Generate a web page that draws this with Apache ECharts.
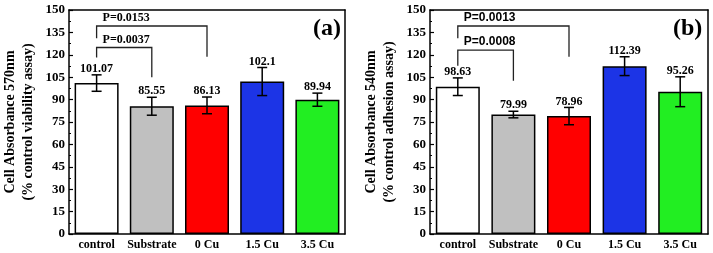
<!DOCTYPE html>
<html>
<head>
<meta charset="utf-8">
<script src="https://cdn.jsdelivr.net/npm/echarts@6/dist/echarts.min.js"></script>
<style>
  html, body { margin: 0; padding: 0; background: #fff; }
  #main { width: 713px; height: 253px; }
</style>
</head>
<body>
<div id="main"></div>
<script>
// groups on the x axis
const categories = ['control', 'Substrate', '0 Cu', '1.5 Cu', '3.5 Cu'];
const barColors = ['#ffffff', '#c0c0c0', '#ff0000', '#1c34e6', '#22ee22'];

// (a) viability, 570nm
const viabilityMean = [101.07, 85.55, 86.13, 102.1, 89.94];
const viabilityErr = [5.5, 6.0, 5.6, 9.4, 4.4];
// (b) adhesion, 540nm
const adhesionMean = [98.63, 79.99, 78.96, 112.39, 95.26];
const adhesionErr = [5.9, 2.2, 5.8, 6.3, 10.0];

const yTicks = { min: 0, max: 150, interval: 15 };

// significance brackets: [from, to, top, left end, right end, label]
const bracketsA = [
  [0, 2, 139.3, 131, 118.7, 'P=0.0153'],
  [0, 1, 124.9, 118.2, 104.9, 'P=0.0037']
];
const bracketsB = [
  [0, 2, 139.3, 131, 118.7, 'P=0.0013'],
  [0, 1, 123.1, 112.7, 102.7, 'P=0.0008']
];

const serif = '"Liberation Serif", "Times New Roman", serif';
const sans = '"Liberation Sans", Arial, sans-serif';

function xAxisFor(gridIndex) {
  return {
    type: 'category', gridIndex, data: categories,
    axisLine: { show: true, lineStyle: { color: '#000', width: 1.5 } },
    axisTick: { show: true, inside: true, alignWithLabel: true, interval: 0, length: 4, lineStyle: { color: '#000', width: 1.2 } },
    axisLabel: { color: '#000', fontFamily: serif, fontWeight: 'bold', fontSize: 12, margin: 5, interval: 0 },
    splitLine: { show: false }
  };
}
function topAxisFor(gridIndex) {
  return {
    type: 'category', gridIndex, position: 'top', data: categories,
    axisLine: { show: true, onZero: false, lineStyle: { color: '#000', width: 1.5 } },
    axisTick: { show: false }, axisLabel: { show: false }
  };
}
function yAxisFor(gridIndex, name) {
  return {
    type: 'value', gridIndex, min: yTicks.min, max: yTicks.max, interval: yTicks.interval,
    name: name, nameLocation: 'middle', nameGap: 32,
    nameTextStyle: { color: '#000', fontFamily: serif, fontWeight: 'bold', fontSize: 14, lineHeight: 18 },
    axisLine: { show: true, lineStyle: { color: '#000', width: 1.5 } },
    axisTick: { show: true, inside: true, length: 4, lineStyle: { color: '#000', width: 1.2 } },
    minorTick: { show: true, splitNumber: 2, length: 2, lineStyle: { color: '#000', width: 1 } },
    axisLabel: { color: '#000', fontFamily: serif, fontWeight: 'bold', fontSize: 13, margin: 4 },
    splitLine: { show: false }
  };
}
function rightAxisFor(gridIndex) {
  return {
    type: 'value', gridIndex, position: 'right', min: yTicks.min, max: yTicks.max, interval: yTicks.interval,
    axisLine: { show: true, lineStyle: { color: '#000', width: 1.5 } },
    axisTick: { show: false }, axisLabel: { show: false }, splitLine: { show: false }
  };
}

function barSeries(idx, means) {
  return {
    type: 'bar', xAxisIndex: idx * 2, yAxisIndex: idx * 2, barWidth: 44,
    data: means.map((v, i) => ({
      value: v,
      itemStyle: { color: barColors[i], borderColor: '#000', borderWidth: 1.5 }
    })),
    silent: true, z: 2
  };
}

function errorSeries(idx, means, errs) {
  return {
    type: 'custom', xAxisIndex: idx * 2, yAxisIndex: idx * 2, z: 5, silent: true,
    data: means.map((v, i) => [i, v, errs[i]]),
    renderItem(params, api) {
      const i = api.value(0), v = api.value(1), e = api.value(2);
      const top = api.coord([i, v + e]);
      const bot = api.coord([i, v - e]);
      const cap = 5;
      const style = { stroke: '#000', lineWidth: 1.5 };
      return {
        type: 'group',
        children: [
          { type: 'line', shape: { x1: top[0], y1: top[1], x2: bot[0], y2: bot[1] }, style },
          { type: 'line', shape: { x1: top[0] - cap, y1: top[1], x2: top[0] + cap, y2: top[1] }, style },
          { type: 'line', shape: { x1: bot[0] - cap, y1: bot[1], x2: bot[0] + cap, y2: bot[1] }, style },
          {
            type: 'text', x: top[0], y: top[1] - 6,
            style: {
              text: String(means[i]), fill: '#000', align: 'center', verticalAlign: 'middle',
              font: 'bold 12px ' + serif
            }
          }
        ]
      };
    }
  };
}

function bracketSeries(idx, brackets, fontFamily) {
  return {
    type: 'custom', xAxisIndex: idx * 2, yAxisIndex: idx * 2, z: 6, silent: true,
    data: brackets.map(b => b.slice(0, 5)),
    renderItem(params, api) {
      const b = brackets[params.dataIndex];
      const pl = api.coord([b[0], b[3]]);
      const pt = api.coord([b[0], b[2]]);
      const qt = api.coord([b[1], b[2]]);
      const qr = api.coord([b[1], b[4]]);
      return {
        type: 'group',
        children: [
          {
            type: 'polyline',
            shape: { points: [pl, pt, qt, qr] },
            style: { stroke: '#222', lineWidth: 1.3, fill: null }
          },
          {
            type: 'text', x: pt[0] + 6, y: pt[1] - 8,
            style: {
              text: b[5], fill: '#000', align: 'left', verticalAlign: 'middle',
              font: 'bold 12px ' + fontFamily
            }
          }
        ]
      };
    }
  };
}

const chart = echarts.init(document.getElementById('main'), null, { renderer: 'canvas' });
chart.setOption({
  backgroundColor: '#fff',
  animation: false,
  grid: [
    { left: 66, right: 368, top: 10, bottom: 19 },
    { left: 430, right: 5, top: 10, bottom: 19 }
  ],
  xAxis: [xAxisFor(0), topAxisFor(0), xAxisFor(1), topAxisFor(1)],
  yAxis: [
    yAxisFor(0, 'Cell Absorbance 570nm\n(% control viability assay)'), rightAxisFor(0),
    yAxisFor(1, 'Cell Absorbance 540nm\n(% control adhesion assay)'), rightAxisFor(1)
  ],
  series: [
    barSeries(0, viabilityMean),
    errorSeries(0, viabilityMean, viabilityErr),
    bracketSeries(0, bracketsA, serif),
    barSeries(1, adhesionMean),
    errorSeries(1, adhesionMean, adhesionErr),
    bracketSeries(1, bracketsB, sans)
  ],
  graphic: [
    { type: 'text', left: 313, top: 17, style: { text: '(a)', fill: '#000', font: 'bold 24px ' + serif } },
    { type: 'text', left: 673, top: 17, style: { text: '(b)', fill: '#000', font: 'bold 24px ' + serif } }
  ]
});
</script>
</body>
</html>
